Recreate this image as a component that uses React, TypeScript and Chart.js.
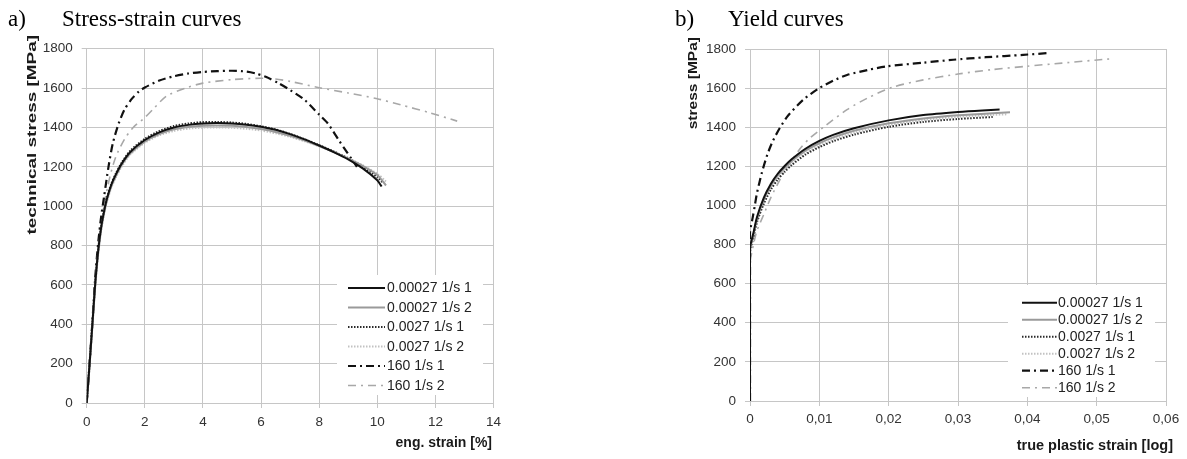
import React, { useEffect, useRef } from "react";
import { Chart, registerables } from "chart.js";

Chart.register(...registerables);

type Pt = [number, number];

// ---------- series labels ----------
const seriesLabels = [
  "0.00027 1/s 1",
  "0.00027 1/s 2",
  "0.0027 1/s 1",
  "0.0027 1/s 2",
  "160 1/s 1",
  "160 1/s 2",
];

// ---------- a) Stress-strain curves: [eng. strain %, technical stress MPa] ----------
const ssSlow1: Pt[] = [[0,0],[0.1,200],[0.2,410],[0.3,620],[0.4,780],[0.5,895],[0.6,975],[0.7,1040],[0.85,1110],[1.0,1160],[1.2,1215],[1.5,1275],[2,1336],[2.5,1375],[3,1400],[3.5,1413],[4,1420],[4.5,1422],[5,1420],[5.5,1414],[6,1404],[6.5,1388],[7,1366],[7.5,1339],[8,1308],[8.5,1275],[9,1238],[9.5,1192],[10,1132],[10.15,1100]];
const ssSlow2: Pt[] = [[0,0],[0.1,195],[0.2,400],[0.3,610],[0.4,770],[0.5,885],[0.6,968],[0.7,1032],[0.85,1102],[1.0,1152],[1.2,1208],[1.5,1268],[2,1328],[2.5,1366],[3,1390],[3.5,1402],[4,1408],[4.5,1410],[5,1408],[5.5,1402],[6,1392],[6.5,1377],[7,1357],[7.5,1333],[8,1305],[8.5,1275],[9,1242],[9.5,1205],[10,1158],[10.3,1105]];
const ssMid1: Pt[] = [[0,0],[0.1,205],[0.2,415],[0.3,625],[0.4,785],[0.5,900],[0.6,980],[0.7,1045],[0.85,1115],[1.0,1165],[1.2,1220],[1.5,1282],[2,1342],[2.5,1382],[3,1407],[3.5,1420],[4,1427],[4.5,1428],[5,1425],[5.5,1418],[6,1406],[6.5,1390],[7,1367],[7.5,1340],[8,1310],[8.5,1278],[9,1243],[9.5,1200],[10,1148],[10.2,1118]];
const ssMid2: Pt[] = [[0,0],[0.1,190],[0.2,395],[0.3,600],[0.4,760],[0.5,878],[0.6,960],[0.7,1025],[0.85,1095],[1.0,1145],[1.2,1200],[1.5,1262],[2,1322],[2.5,1360],[3,1382],[3.5,1394],[4,1399],[4.5,1400],[5,1398],[5.5,1393],[6,1384],[6.5,1370],[7,1352],[7.5,1330],[8,1304],[8.5,1276],[9,1244],[9.5,1208],[10,1165],[10.3,1125]];
const ssFast1: Pt[] = [[0,0],[0.1,200],[0.2,420],[0.3,650],[0.4,820],[0.5,950],[0.6,1050],[0.75,1200],[0.9,1320],[1.1,1420],[1.3,1490],[1.55,1545],[1.8,1583],[2,1603],[2.5,1638],[3,1660],[3.5,1674],[4,1682],[4.5,1686],[5,1688],[5.5,1684],[5.8,1675],[6.2,1655],[6.6,1625],[7,1590],[7.5,1540],[8,1465],[8.3,1420],[8.7,1330],[9.3,1200]];
const ssFast2: Pt[] = [[0,0],[0.1,200],[0.2,420],[0.3,640],[0.4,800],[0.5,920],[0.6,1010],[0.8,1150],[1.0,1250],[1.3,1340],[1.6,1400],[2,1450],[2.3,1495],[2.75,1560],[3.4,1600],[4,1625],[5,1643],[6,1650],[6.5,1646],[7,1634],[8,1602],[9,1575],[10,1546],[10.8,1515],[11.8,1475],[12.75,1432]];

// ---------- b) Yield curves: [true plastic strain, stress MPa] ----------
const ycSlow1: Pt[] = [[0,0],[0,780],[0.0005,860],[0.001,940],[0.002,1040],[0.003,1110],[0.004,1162],[0.005,1202],[0.006,1236],[0.008,1290],[0.01,1330],[0.012,1361],[0.015,1395],[0.02,1435],[0.025,1462],[0.03,1478],[0.0335,1486],[0.036,1490]];
const ycSlow2: Pt[] = [[0,0],[0,770],[0.0005,850],[0.001,930],[0.002,1030],[0.003,1100],[0.004,1152],[0.005,1192],[0.006,1226],[0.008,1280],[0.01,1318],[0.012,1348],[0.015,1382],[0.02,1420],[0.025,1445],[0.03,1461],[0.035,1472],[0.0375,1476]];
const ycMid1: Pt[] = [[0,0],[0,760],[0.0005,840],[0.001,915],[0.002,1010],[0.003,1080],[0.004,1132],[0.005,1172],[0.006,1206],[0.008,1260],[0.01,1298],[0.012,1328],[0.015,1362],[0.02,1402],[0.025,1427],[0.03,1442],[0.035,1452]];
const ycMid2: Pt[] = [[0,0],[0,750],[0.0005,835],[0.001,912],[0.002,1012],[0.003,1085],[0.004,1138],[0.005,1180],[0.006,1214],[0.008,1268],[0.01,1306],[0.012,1337],[0.015,1372],[0.02,1412],[0.025,1437],[0.03,1453],[0.035,1463],[0.037,1466]];
const ycFast1: Pt[] = [[0,0],[0,860],[0.0004,940],[0.0007,1000],[0.001,1062],[0.0017,1166],[0.0025,1260],[0.0033,1330],[0.0043,1396],[0.0055,1460],[0.0077,1541],[0.0099,1598],[0.012,1638],[0.014,1667],[0.017,1693],[0.0197,1711],[0.025,1730],[0.0293,1745],[0.034,1758],[0.0394,1770],[0.0433,1780]];
const ycFast2: Pt[] = [[0,0],[0,700],[0.0005,800],[0.001,870],[0.002,955],[0.003,1040],[0.004,1110],[0.005,1175],[0.007,1280],[0.0085,1340],[0.0106,1400],[0.014,1490],[0.017,1550],[0.0206,1605],[0.025,1642],[0.03,1672],[0.035,1695],[0.04,1712],[0.045,1728],[0.0515,1748],[0.0525,1750]];

// ---------- axes ----------
const yTicksMin = 0, yTicksMax = 1800, yTicksStep = 200;
const ssXMin = 0, ssXMax = 14, ssXStep = 2;
const ycXMin = 0, ycXMax = 0.06, ycXStep = 0.01;

// ---------- styles ----------
const seriesStyles = [
  { color: "#111111", width: 2, dash: [] as number[] },
  { color: "#9a9a9a", width: 2, dash: [] as number[] },
  { color: "#2a2a2a", width: 2, dash: [1.5, 1.5] },
  { color: "#c2c2c2", width: 2, dash: [1.5, 1.5] },
  { color: "#111111", width: 2.2, dash: [8, 4, 2, 4] },
  { color: "#a8a8a8", width: 1.6, dash: [8, 5, 2, 5] },
];

const SANS = '"Liberation Sans", Arial, sans-serif';
const SERIF = '"Liberation Serif", "Times New Roman", serif';
const GRID = "#c6c6c6";

function makeDatasets(series: Pt[][]) {
  return series.map((s, i) => ({
    label: seriesLabels[i],
    data: s.map(([x, y]) => ({ x, y })),
    borderColor: seriesStyles[i].color,
    borderWidth: seriesStyles[i].width,
    borderDash: seriesStyles[i].dash,
    pointRadius: 0,
    tension: 0.25,
    fill: false,
  }));
}

type Cfg = {
  width: number;
  height: number;
  area: { left: number; right: number; top: number; bottom: number };
  series: Pt[][];
  xMin: number; xMax: number; xStep: number;
  xFmt: (v: number) => string;
  tag: string; tagX: number; title: string; titleX: number;
  xTitle: string; xTitleSize: number; xTitleRight: number; xTitleY: number;
  yTitle: string; yTitleX: number; yTitleTop: number; yTitleStretch: number;
  legend: { box: [number, number, number, number]; row0: number; gap: number; sx1: number; sx2: number; tx: number };
  xTickPad: number;
};

function ChartPanel({ cfg, left }: { cfg: Cfg; left: number }) {
  const ref = useRef<HTMLCanvasElement | null>(null);
  useEffect(() => {
    if (!ref.current) return;
    const decor = {
      id: "decor",
      afterDraw(chart: any) {
        const ctx: CanvasRenderingContext2D = chart.ctx;
        ctx.save();
        // panel title
        ctx.fillStyle = "#000";
        ctx.font = `23px ${SERIF}`;
        ctx.textAlign = "left";
        ctx.textBaseline = "alphabetic";
        ctx.fillText(cfg.tag, cfg.tagX, 26);
        ctx.fillText(cfg.title, cfg.titleX, 26);
        // x axis title
        ctx.fillStyle = "#1a1a1a";
        ctx.font = `bold ${cfg.xTitleSize}px ${SANS}`;
        ctx.textAlign = "right";
        ctx.textBaseline = "middle";
        ctx.fillText(cfg.xTitle, cfg.xTitleRight, cfg.xTitleY);
        // y axis title
        ctx.save();
        ctx.translate(cfg.yTitleX, cfg.yTitleTop);
        ctx.rotate(-Math.PI / 2);
        ctx.scale(cfg.yTitleStretch, 1);
        ctx.font = `bold 13.5px ${SANS}`;
        ctx.textAlign = "right";
        ctx.textBaseline = "middle";
        ctx.fillText(cfg.yTitle, 0, 0);
        ctx.restore();
        // legend
        const L = cfg.legend;
        ctx.fillStyle = "#ffffff";
        ctx.fillRect(L.box[0], L.box[1], L.box[2], L.box[3]);
        chart.data.datasets.forEach((ds: any, i: number) => {
          const y = L.row0 + i * L.gap;
          ctx.save();
          ctx.strokeStyle = ds.borderColor;
          ctx.lineWidth = ds.borderWidth;
          ctx.setLineDash(ds.borderDash || []);
          ctx.beginPath();
          ctx.moveTo(L.sx1, y);
          ctx.lineTo(L.sx2, y);
          ctx.stroke();
          ctx.restore();
          ctx.fillStyle = "#222";
          ctx.font = `14px ${SANS}`;
          ctx.textAlign = "left";
          ctx.textBaseline = "middle";
          ctx.fillText(ds.label, L.tx, y + 0.5);
        });
        ctx.restore();
      },
    };
    const a = cfg.area;
    const chart = new Chart(ref.current, {
      type: "line",
      data: { datasets: makeDatasets(cfg.series) as any },
      options: {
        animation: false,
        responsive: false,
        devicePixelRatio: 1,
        layout: { padding: { left: 0, top: a.top, right: cfg.width - a.right, bottom: 0 } },
        plugins: { legend: { display: false }, tooltip: { enabled: false }, title: { display: false } },
        scales: {
          x: {
            type: "linear",
            min: cfg.xMin,
            max: cfg.xMax,
            grid: { color: GRID, lineWidth: 1, tickLength: 5, drawTicks: true },
            border: { color: GRID },
            ticks: {
              stepSize: cfg.xStep,
              autoSkip: false,
              maxRotation: 0,
              padding: cfg.xTickPad,
              color: "#333",
              font: { family: SANS, size: 13.5 },
              callback: (v: any) => cfg.xFmt(Number(v)),
            },
            afterFit: (s: any) => { s.height = cfg.height - a.bottom; },
          },
          y: {
            type: "linear",
            min: yTicksMin,
            max: yTicksMax,
            grid: { color: GRID, lineWidth: 1, tickLength: 5, drawTicks: true },
            border: { color: GRID },
            ticks: {
              stepSize: yTicksStep,
              padding: 9,
              color: "#333",
              font: { family: SANS, size: 13.5 },
              callback: (v: any) => String(Math.round(Number(v))),
            },
            afterFit: (s: any) => { s.width = a.left; },
          },
        },
      },
      plugins: [decor],
    });
    return () => chart.destroy();
  }, [cfg]);
  return (
    <canvas
      ref={ref}
      width={cfg.width}
      height={cfg.height}
      style={{ position: "absolute", left, top: 0, width: cfg.width, height: cfg.height }}
    />
  );
}

const leftCfg: Cfg = {
  width: 600,
  height: 459,
  area: { left: 86.7, right: 493.5, top: 48.7, bottom: 403 },
  series: [ssSlow1, ssSlow2, ssMid1, ssMid2, ssFast1, ssFast2],
  xMin: ssXMin, xMax: ssXMax, xStep: ssXStep,
  xFmt: (v) => String(Math.round(v)),
  tag: "a)", tagX: 8, title: "Stress-strain curves", titleX: 62,
  xTitle: "eng. strain [%]", xTitleSize: 14, xTitleRight: 492, xTitleY: 443,
  yTitle: "technical stress [MPa]", yTitleX: 32, yTitleTop: 35, yTitleStretch: 1.4,
  legend: { box: [337, 275, 146, 120], row0: 288, gap: 19.5, sx1: 348, sx2: 385, tx: 387 },
  xTickPad: 6,
};

const rightCfg: Cfg = {
  width: 587,
  height: 459,
  area: { left: 150, right: 566, top: 49, bottom: 401 },
  series: [ycSlow1, ycSlow2, ycMid1, ycMid2, ycFast1, ycFast2],
  xMin: ycXMin, xMax: ycXMax, xStep: ycXStep,
  xFmt: (v) => (Math.abs(v) < 1e-9 ? "0" : v.toFixed(2).replace(".", ",")),
  tag: "b)", tagX: 75, title: "Yield curves", titleX: 128,
  xTitle: "true plastic strain [log]", xTitleSize: 14.5, xTitleRight: 573, xTitleY: 446,
  yTitle: "stress [MPa]", yTitleX: 93, yTitleTop: 37, yTitleStretch: 1.15,
  legend: { box: [408, 285, 147, 112], row0: 302.7, gap: 17, sx1: 422, sx2: 457, tx: 458 },
  xTickPad: 5,
};

export default function App() {
  return (
    <div style={{ position: "fixed", left: 0, top: 0, width: 1187, height: 459, background: "#fff" }}>
      <ChartPanel cfg={leftCfg} left={0} />
      <ChartPanel cfg={rightCfg} left={600} />
    </div>
  );
}
